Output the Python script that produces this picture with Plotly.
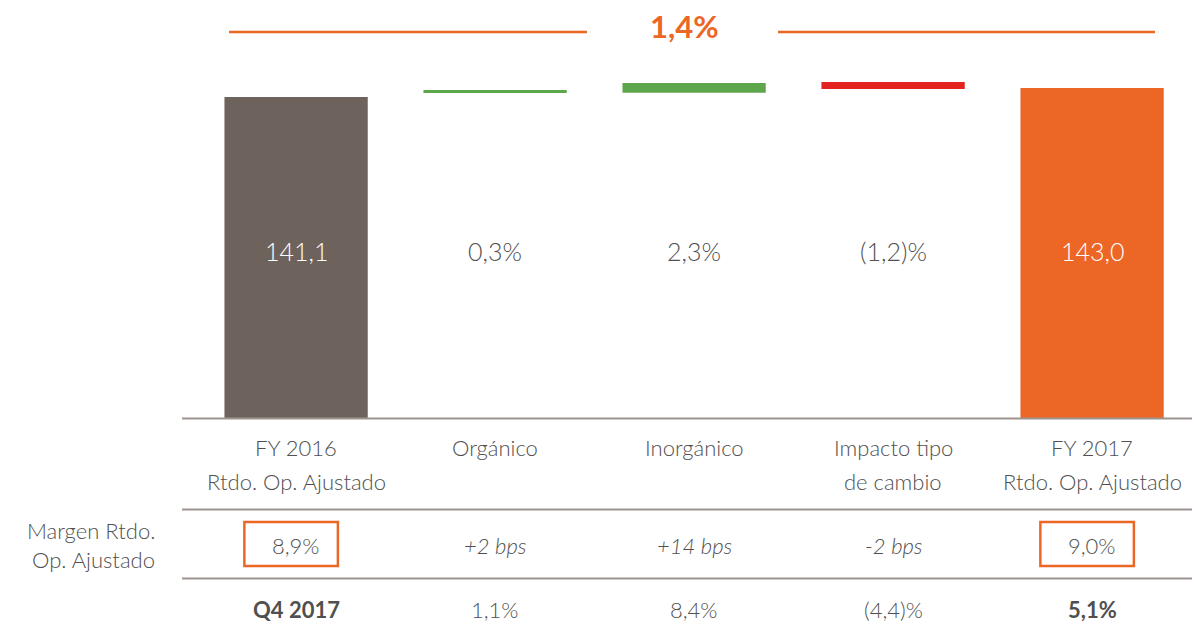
import plotly.graph_objects as go

# ---------------- data ----------------
categories = ["FY 2016\nRtdo. Op. Ajustado", "Orgánico", "Inorgánico",
              "Impacto tipo\nde cambio", "FY 2017\nRtdo. Op. Ajustado"]
bar_labels = ["141,1", "0,3%", "2,3%", "(1,2)%", "143,0"]
# drawn levels of each (floating) bar
bar_bottom = [0.0, 142.86, 143.0, 144.62, 0.0]
bar_top = [141.1, 144.18, 147.25, 147.69, 145.05]
bar_colors = ["#6E625C", "#5EA64B", "#5EA64B", "#E2231F", "#EC6726"]
label_colors = ["#FFFFFF", "#505050", "#505050", "#505050", "#FFFFFF"]
total_change = "1,4%"

margin_header = ["Margen Rtdo.", "Op. Ajustado"]
margin_row = ["8,9%", "+2 bps", "+14 bps", "-2 bps", "9,0%"]
margin_boxed = [True, False, False, False, True]
q4_row = ["Q4 2017", "1,1%", "8,4%", "(4,4)%", "5,1%"]
q4_bold = [True, False, False, False, True]

# ---------------- layout helpers ----------------
OFF = 8                      # default page margin of the html body
W, H = 1200 - 2 * OFF, 639 - 2 * OFF
FONT = "Lato"
TXT = "#505050"
ORANGE = "#EC6726"
LINE = "#9D9490"
SCALE = 2.275                # px per unit on the hidden value axis
BASE_Y = 418                 # window pixel row of the baseline


def px(x):
    return (x - OFF) / W


def py(y):
    return 1 - (y - OFF) / H


fig = go.Figure()
fig.add_trace(go.Bar(
    x=categories,
    y=[t - b for t, b in zip(bar_top, bar_bottom)],
    base=bar_bottom,
    marker=dict(color=bar_colors, line=dict(width=0)),
    width=0.72,
    hoverinfo="skip",
))

ann = []
# labels inside / around bars
for i, (lab, col) in enumerate(zip(bar_labels, label_colors)):
    ann.append(dict(x=i, y=py(251), xref="x", yref="paper", text=lab,
                    showarrow=False, font=dict(size=25, color=col, family=FONT, weight=300),
                    xanchor="center", yanchor="middle"))

# category labels (two lines)
for i, cat in enumerate(categories):
    for j, ln in enumerate(cat.split("\n")):
        ann.append(dict(x=i, y=py(447 + 34 * j), xref="x", yref="paper", text=ln,
                        showarrow=False, font=dict(size=22, color=TXT, family=FONT, weight=300),
                        xanchor="center", yanchor="middle"))

# margin row
for j, ln in enumerate(margin_header):
    ann.append(dict(x=px(157), y=py(530 + 29 * j), xref="paper", yref="paper", text=ln,
                    showarrow=False, font=dict(size=22, color=TXT, family=FONT, weight=300),
                    xanchor="right", yanchor="middle"))
for i, v in enumerate(margin_row):
    t = v if margin_boxed[i] else "<i>" + v + "</i>"
    ann.append(dict(x=i, y=py(545), xref="x", yref="paper", text=t,
                    showarrow=False, font=dict(size=22, color=TXT, family=FONT, weight=300),
                    xanchor="center", yanchor="middle"))

# Q4 row
for i, v in enumerate(q4_row):
    t = "<b>" + v + "</b>" if q4_bold[i] else v
    ann.append(dict(x=i, y=py(609), xref="x", yref="paper", text=t,
                    showarrow=False, font=dict(size=22, color=TXT, family=FONT, weight=300),
                    xanchor="center", yanchor="middle"))

# overall change
ann.append(dict(x=px(684), y=py(26), xref="paper", yref="paper",
                text="<b>" + total_change + "</b>", showarrow=False,
                font=dict(size=31, color=ORANGE, family=FONT),
                xanchor="center", yanchor="middle"))

shapes = []
# top orange bracket lines
shapes.append(dict(type="line", xref="paper", yref="paper", x0=px(229), x1=px(587),
                   y0=py(32), y1=py(32), line=dict(color=ORANGE, width=2.5)))
shapes.append(dict(type="line", xref="paper", yref="paper", x0=px(778), x1=px(1155),
                   y0=py(32), y1=py(32), line=dict(color=ORANGE, width=2.5)))
# table rules
for yy in (418.5, 509.5, 578.5):
    shapes.append(dict(type="line", xref="paper", yref="paper", x0=px(182), x1=1,
                       y0=py(yy), y1=py(yy), line=dict(color=LINE, width=2)))
# boxes around margin values
for i, boxed in enumerate(margin_boxed):
    if boxed:
        shapes.append(dict(type="rect", xref="x", yref="paper", x0=i - 0.26, x1=i + 0.21,
                           y0=py(566), y1=py(522), line=dict(color=ORANGE, width=2.5),
                           fillcolor="rgba(0,0,0,0)"))

fig.update_layout(
    width=W, height=H,
    margin=dict(l=0, r=0, t=0, b=0),
    paper_bgcolor="white", plot_bgcolor="white",
    showlegend=False,
    bargap=0.28,
    xaxis=dict(domain=[px(196.6), px(1191.6)], range=[-0.5, 4.5], showticklabels=False,
               showgrid=False, zeroline=False, showline=False, ticks=""),
    yaxis=dict(domain=[py(BASE_Y), 1], range=[0, (BASE_Y - OFF) / SCALE], showticklabels=False,
               showgrid=False, zeroline=False, showline=False, ticks=""),
    annotations=ann,
    shapes=shapes,
)

fig.write_html("out.html")
